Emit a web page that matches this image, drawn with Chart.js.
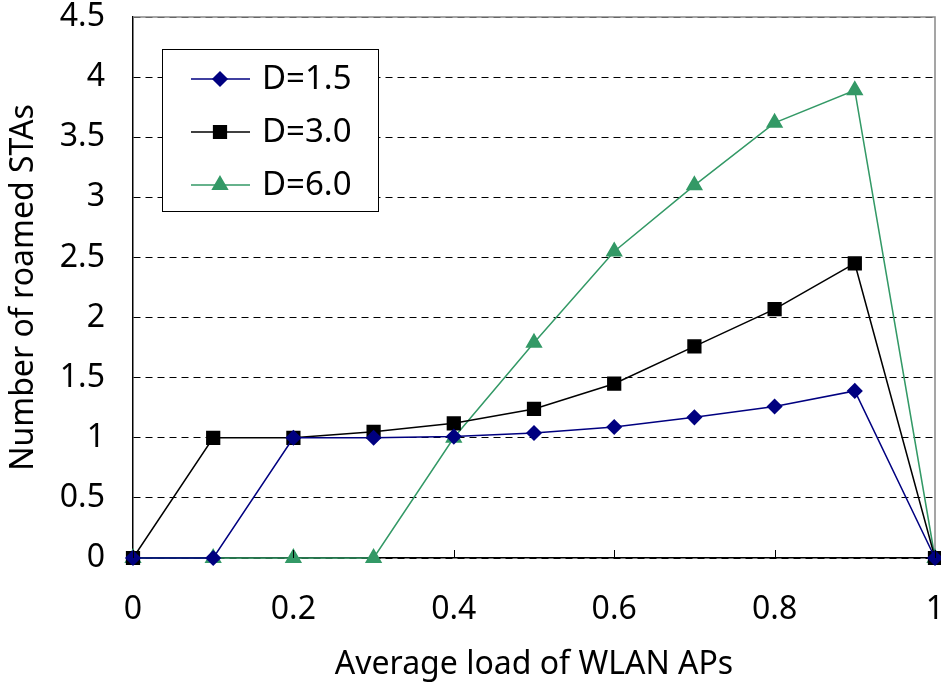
<!DOCTYPE html>
<html>
<head>
<meta charset="utf-8">
<script src="https://cdn.jsdelivr.net/npm/chart.js@4.4.1/dist/chart.umd.min.js"></script>
<style>
  html, body { margin: 0; padding: 0; background: #fff; }
  #wrap { width: 941px; height: 688px; }
</style>
</head>
<body>
<div id="wrap"><canvas id="roamChart" width="941" height="688"></canvas></div>
<script>
const loadValues = [0, 0.1, 0.2, 0.3, 0.4, 0.5, 0.6, 0.7, 0.8, 0.9, 1.0];
const roamedD15 = [0, 0, 1.0, 1.0, 1.01, 1.04, 1.09, 1.17, 1.26, 1.39, 0];
const roamedD30 = [0, 1.0, 1.0, 1.05, 1.12, 1.24, 1.45, 1.76, 2.07, 2.45, 0];
const roamedD60 = [0, 0, 0, 0, 1.0, 1.79, 2.55, 3.10, 3.62, 3.89, 0];
const seriesNames = ['D=1.5', 'D=3.0', 'D=6.0'];

const FONT = '"Noto Sans", "DejaVu Sans", sans-serif';

function toPoints(ys) {
  return loadValues.map(function (x, i) { return { x: x, y: ys[i] }; });
}

// no extra room for the end labels, the plot fills the frame
function noScalePadding(s) {
  s.paddingTop = 0;
  s.paddingBottom = 0;
  s.paddingLeft = 0;
  s.paddingRight = 0;
}

// grey frame on top/right of the plot, like the original figure
const plotFrame = {
  id: 'plotFrame',
  beforeDatasetsDraw: function (chart) {
    const a = chart.chartArea;
    const ctx = chart.ctx;
    ctx.save();
    ctx.strokeStyle = '#888';
    ctx.lineWidth = 1.5;
    ctx.beginPath();
    ctx.moveTo(a.left, a.top);
    ctx.lineTo(a.right, a.top);
    ctx.lineTo(a.right, a.bottom);
    ctx.stroke();
    ctx.restore();
  }
};

// legend box inside the plot + x tick marks pointing up
const boxLegend = {
  id: 'boxLegend',
  afterDraw: function (chart) {
    const ctx = chart.ctx;
    const left = 162, top = 49, w = 216, h = 162;
    ctx.save();
    ctx.fillStyle = '#fff';
    ctx.fillRect(left, top, w, h);
    ctx.strokeStyle = '#000';
    ctx.lineWidth = 1;
    ctx.strokeRect(left + 0.5, top + 0.5, w, h);
    const rows = [79, 132, 185];
    chart.data.datasets.forEach(function (ds, i) {
      const y = rows[i];
      ctx.strokeStyle = ds.borderColor;
      ctx.lineWidth = 1.5;
      ctx.beginPath();
      ctx.moveTo(191, y);
      ctx.lineTo(250, y);
      ctx.stroke();
      ctx.fillStyle = ds.backgroundColor;
      Chart.helpers.drawPoint(ctx, {
        pointStyle: ds.pointStyle,
        radius: ds.pointRadius,
        borderWidth: 1
      }, 220, y);
      ctx.fillStyle = '#000';
      ctx.font = '33px ' + FONT;
      ctx.textBaseline = 'middle';
      ctx.fillText(ds.label, 262, y + 1);
    });
    const xs = chart.scales.x;
    const bottom = chart.chartArea.bottom;
    ctx.strokeStyle = '#000';
    ctx.lineWidth = 1;
    xs.ticks.forEach(function (t) {
      const px = Math.round(xs.getPixelForValue(t.value)) + 0.5;
      ctx.beginPath();
      ctx.moveTo(px, bottom);
      ctx.lineTo(px, bottom - 8);
      ctx.stroke();
    });
    ctx.restore();
  }
};

function createRoamChart() {
  const ctx = document.getElementById('roamChart').getContext('2d');
  const roamChart = new Chart(ctx, {
    type: 'line',
    data: {
      datasets: [{
        label: seriesNames[0],
        data: toPoints(roamedD15),
        borderColor: '#000080',
        backgroundColor: '#000080',
        pointStyle: 'rectRot',
        pointRadius: 7,
        borderWidth: 1.5,
        clip: false
      }, {
        label: seriesNames[1],
        data: toPoints(roamedD30),
        borderColor: '#000000',
        backgroundColor: '#000000',
        pointStyle: 'rect',
        pointRadius: 9,
        borderWidth: 1.5,
        clip: false
      }, {
        label: seriesNames[2],
        data: toPoints(roamedD60),
        borderColor: '#339966',
        backgroundColor: '#339966',
        pointStyle: 'triangle',
        pointRadius: 8.5,
        borderWidth: 1.5,
        clip: false
      }]
    },
    options: {
      responsive: false,
      animation: false,
      layout: { autoPadding: false, padding: { top: 17, right: 6, left: 0, bottom: 0 } },
      plugins: {
        legend: { display: false },
        tooltip: { enabled: false }
      },
      scales: {
        x: {
          type: 'linear',
          min: 0,
          max: 1,
          afterFit: function (s) { s.height = 130; noScalePadding(s); },
          ticks: {
            stepSize: 0.2,
            color: '#000',
            padding: 33,
            font: { family: FONT, size: 32 },
            callback: function (v) { return String(Math.round(v * 10) / 10); }
          },
          grid: { drawOnChartArea: false, drawTicks: false },
          border: { color: '#000', width: 1.5 },
          title: {
            display: true,
            text: 'Average load of WLAN APs',
            color: '#000',
            padding: { top: 6 },
            font: { family: FONT, size: 32 }
          }
        },
        y: {
          min: 0,
          max: 4.5,
          afterFit: function (s) { s.width = 133; noScalePadding(s); },
          ticks: {
            stepSize: 0.5,
            color: '#000',
            padding: 28,
            font: { family: FONT, size: 32 },
            callback: function (v) { return String(Math.round(v * 10) / 10); }
          },
          grid: { color: '#000', lineWidth: 1, drawTicks: false },
          border: { color: '#000', width: 1.5, dash: [7, 5] },
          title: {
            display: true,
            text: 'Number of roamed STAs',
            color: '#000',
            padding: { top: 5 },
            font: { family: FONT, size: 32 }
          }
        }
      }
    },
    plugins: [plotFrame, boxLegend]
  });
}

createRoamChart();
</script>
</body>
</html>
